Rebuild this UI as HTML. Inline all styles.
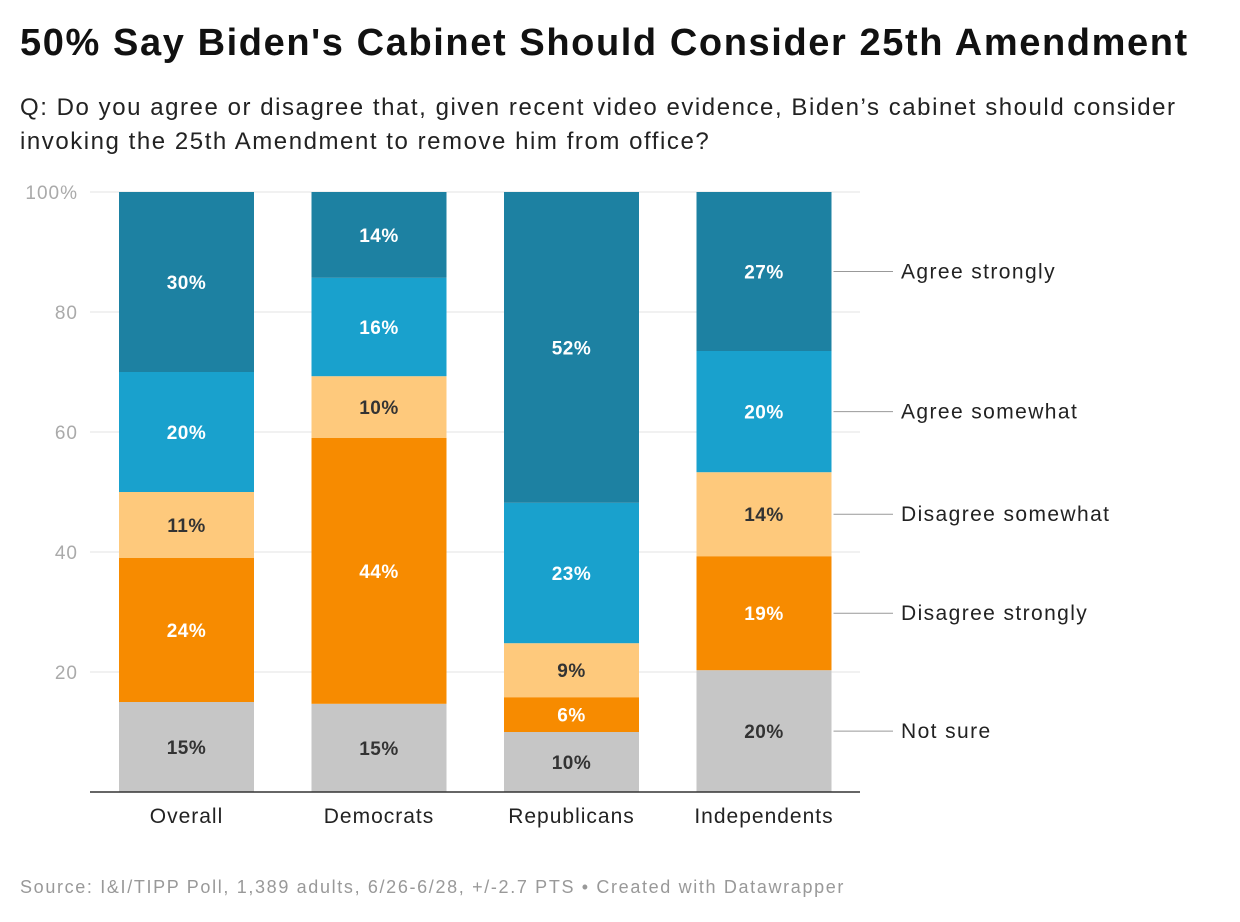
<!DOCTYPE html>
<html><head><meta charset="utf-8"><style>
body{margin:0;background:#fff;font-family:"Liberation Sans",Arial,sans-serif;}
#wrap{position:relative;width:1240px;height:922px;overflow:hidden;}
.t{position:absolute;white-space:nowrap;}
</style></head><body>
<div id="wrap">
<div class="t" style="left:20px;top:22px;font-size:38px;letter-spacing:1.6px;font-weight:bold;color:#111;">50% Say Biden's Cabinet Should Consider 25th Amendment</div>
<div class="t" style="left:20px;top:91px;font-size:24px;letter-spacing:1.55px;line-height:34px;color:#222;">Q: Do you agree or disagree that, given recent video evidence, Biden’s cabinet should consider<br>invoking the 25th Amendment to remove him from office?</div>
<svg id="chart" width="1240" height="922" style="position:absolute;left:0;top:0"></svg>
<div class="t" style="left:20px;top:877px;font-size:18px;letter-spacing:1.65px;color:#999;">Source: I&amp;I/TIPP Poll, 1,389 adults, 6/26-6/28, +/-2.7 PTS • Created with Datawrapper</div>
</div>
<script>
const categories=["Overall","Democrats","Republicans","Independents"];
const seriesNames=["Not sure","Disagree strongly","Disagree somewhat","Agree somewhat","Agree strongly"];
const notSure=[15,14.7,10,20.3];
const disagreeStrongly=[24,44.3,5.8,19];
const disagreeSomewhat=[11,10.3,9,14];
const agreeSomewhat=[20,16.4,23.4,20.2];
const agreeStrongly=[30,14.3,51.8,26.5];
const yTicks=[20,40,60,80,100];
const series=[notSure,disagreeStrongly,disagreeSomewhat,agreeSomewhat,agreeStrongly];
const colors=["#c6c6c6","#f78b00","#fec97c","#19a1cd","#1d81a2"];
const textCol=["#333","#fff","#333","#fff","#fff"];
const ns="http://www.w3.org/2000/svg";
const svg=document.getElementById('chart');
const y=v=>792-v*6;
const x=i=>119+i*192.5;
const bw=135;
function mk(t,a,txt){const e=document.createElementNS(ns,t);for(const k in a)e.setAttribute(k,a[k]);if(txt!=null)e.textContent=txt;svg.appendChild(e);return e;}
yTicks.forEach(v=>{
 const g=mk('line',{x1:90,x2:860,y1:y(v),y2:y(v),stroke:'#e3e3e3','stroke-width':1});
 
 
 const l=mk('text',{x:78,y:y(v)+7,'text-anchor':'end','font-size':19,'letter-spacing':1,fill:'#aaa'},v===100?'100%':v);
 
 
});
categories.forEach((c,i)=>{
 let cum=0;
 series.forEach((s,j)=>{
  const v=s[i];
  const r=mk('rect',{x:x(i),y:y(cum+v),width:bw,height:v*6,fill:colors[j]});
  
  
  const t=mk('text',{x:x(i)+bw/2,y:y(cum+v/2)+7,'text-anchor':'middle','font-size':19,'font-weight':'bold','letter-spacing':0.5,fill:textCol[j]},Math.round(v)+'%');
  
  
  if(i===categories.length-1){
   const yy=y(cum+v/2);
   const ln=mk('line',{x1:x(i)+bw+2,x2:893,y1:yy,y2:yy,stroke:'#999','stroke-width':1});
   
   
   const lt=mk('text',{x:901,y:yy+7,'font-size':21,'letter-spacing':1.4,fill:'#222'},seriesNames[j]);
   
   
  }
  cum+=v;
 });
 const cl=mk('text',{x:x(i)+bw/2,y:823,'text-anchor':'middle','font-size':21,'letter-spacing':1,fill:'#222'},c);
 
 
});
const base=mk('line',{x1:90,x2:860,y1:792,y2:792,stroke:'#333','stroke-width':1.5});


</script>
</body></html>
